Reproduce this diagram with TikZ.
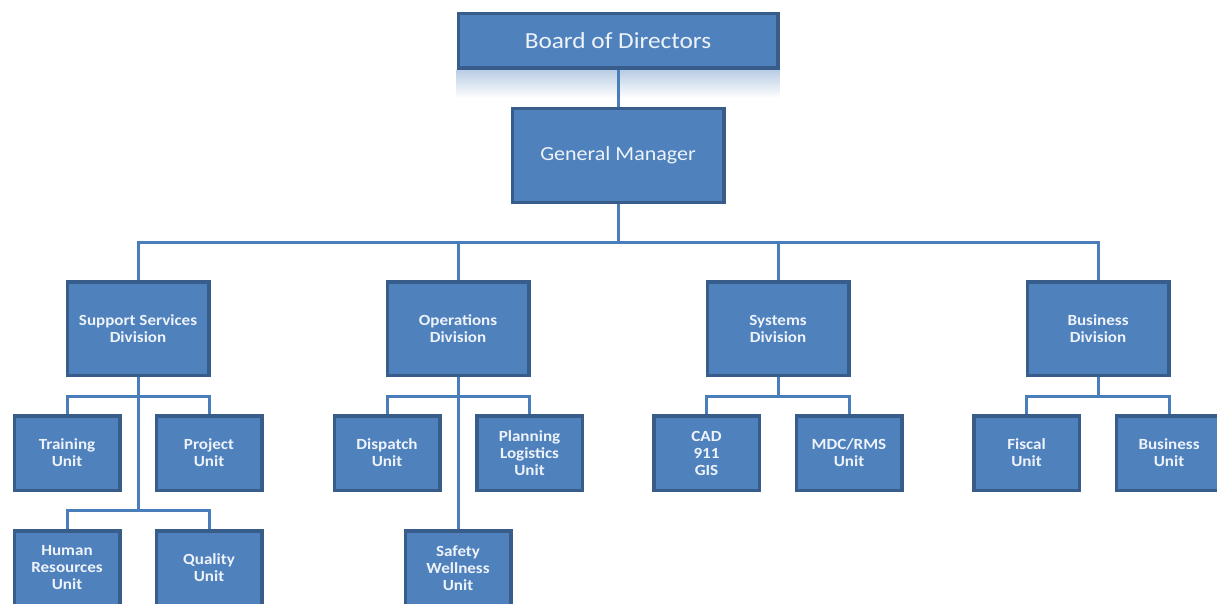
\documentclass[tikz,border=0pt]{standalone}
\usepackage{fontspec}
\setmainfont{Carlito}
\newfontfamily\widefont[FakeStretch=1.1]{Carlito}
\usetikzlibrary{backgrounds}
\definecolor{boxfill}{HTML}{4F81BD}
\definecolor{boxedge}{HTML}{385D8A}
\definecolor{linkc}{HTML}{4A7EBB}
\definecolor{txt}{HTML}{EEF3FA}
\tikzset{
  orgbox/.style={rectangle, fill=boxfill, draw=boxedge, line width=3.5pt, text=txt, align=center, inner sep=1pt},
  topbox/.style={orgbox, font=\widefont\fontsize{23}{26}\selectfont},
  divbox/.style={orgbox, minimum width=141.5pt, minimum height=93.5pt, font=\widefont\bfseries\fontsize{15.5}{17}\selectfont},
  unitbox/.style={orgbox, minimum width=105.5pt, minimum height=74.5pt, font=\widefont\bfseries\fontsize{15.5}{17}\selectfont},
  link/.style={draw=linkc, line width=3pt}
}
\begin{document}
\begin{tikzpicture}[x=1pt,y=-1pt]
\useasboundingbox (0,0) rectangle (1217,604);
% coordinates for buses
\coordinate (gmbus) at (618,242);
\coordinate (sb1) at (138,396);
\coordinate (sb2) at (138,510);
\coordinate (ob1) at (458,396);
\coordinate (yb1) at (778,396);
\coordinate (bb1) at (1098,396);
% nodes
\node[topbox, minimum width=319.5pt, minimum height=54.5pt] (board) at (618,41) {Board of Directors};
\node[topbox, minimum width=211.5pt, minimum height=93.5pt, font=\widefont\fontsize{20}{24}\selectfont] (gm) at (618,155.5) {General Manager};
\node[divbox] (sup) at (138,328.5) {Support Services\\Division};
\node[divbox] (ops) at (458,328.5) {Operations\\Division};
\node[divbox] (sys) at (778,328.5) {Systems\\Division};
\node[divbox] (bus) at (1098,328.5) {Business\\Division};
\node[unitbox] (train) at (67,453) {Training\\Unit};
\node[unitbox] (proj) at (209,453) {Project\\Unit};
\node[unitbox] (disp) at (387,453) {Dispatch\\Unit};
\node[unitbox] (plan) at (529.5,453) {Planning\\Logistics\\Unit};
\node[unitbox] (cad) at (706.5,453) {CAD\\911\\GIS};
\node[unitbox] (mdc) at (849,453) {MDC/RMS\\Unit};
\node[unitbox] (fisc) at (1026.5,453) {Fiscal\\Unit};
\node[unitbox] (bunit) at (1169,453) {Business\\Unit};
\node[unitbox] (hr) at (67,568) {Human\\Resources\\Unit};
\node[unitbox] (qual) at (209,568) {Quality\\Unit};
\node[unitbox] (safe) at (458,568) {Safety\\Wellness\\Unit};
% connectors (behind boxes)
\begin{scope}[on background layer]
% reflection under the board
\shade[top color=boxfill!40, bottom color=white] (board.south west) rectangle ([yshift=-28pt]board.south east);
\draw[link] (board.south) -- (gm.north);
\draw[link] (gm.south) -- (gmbus);
\draw[link] (sup.north) |- (gmbus) -| (bus.north);
\draw[link] (ops.north) -- (ops.north |- gmbus);
\draw[link] (sys.north) -- (sys.north |- gmbus);
% support services
\draw[link] (sup.south) -- (sb2);
\draw[link] (train.north) |- (sb1) -| (proj.north);
\draw[link] (hr.north) |- (sb2) -| (qual.north);
% operations
\draw[link] (ops.south) -- (safe.north);
\draw[link] (disp.north) |- (ob1) -| (plan.north);
% systems
\draw[link] (sys.south) -- (yb1);
\draw[link] (cad.north) |- (yb1) -| (mdc.north);
% business
\draw[link] (bus.south) -- (bb1);
\draw[link] (fisc.north) |- (bb1) -| (bunit.north);
\end{scope}
\end{tikzpicture}
\end{document}
